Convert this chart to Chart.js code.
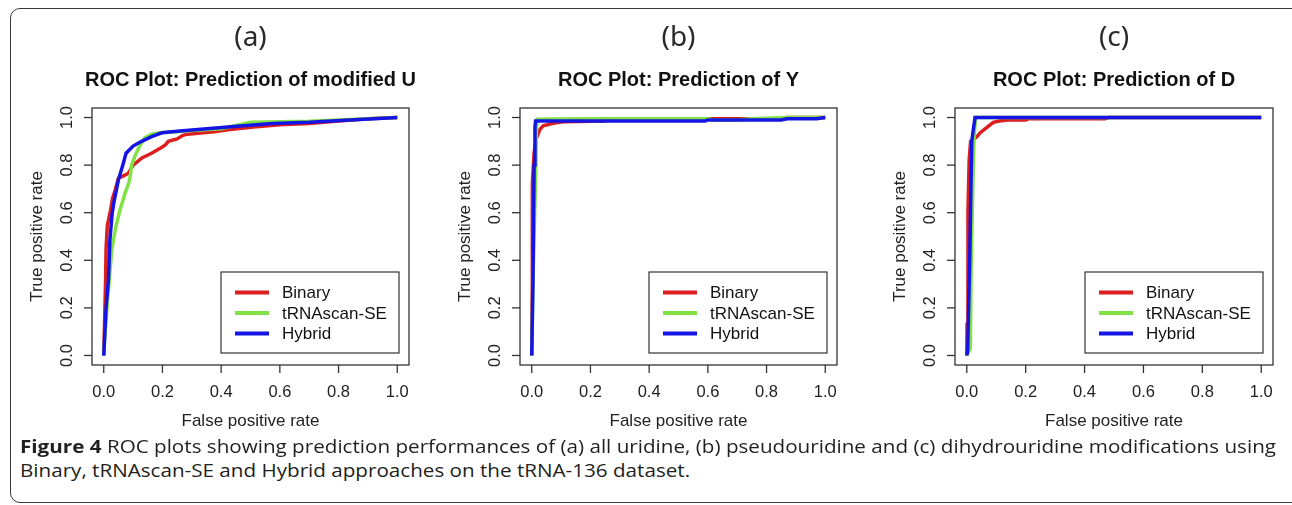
<!DOCTYPE html>
<html>
<head>
<meta charset="utf-8">
<script src="https://cdn.jsdelivr.net/npm/chart.js@4.4.1/dist/chart.umd.min.js"></script>
<style>
  body { margin: 0; background: #fff; }
  #page { position: relative; width: 1292px; height: 505px; overflow: hidden; background: #fff; }
  #frame { position: absolute; left: 10px; top: 8px; width: 1290px; height: 493px; border: 1.5px solid #3a3a3a; border-radius: 10px; }
  canvas { position: absolute; top: 15px; }
  .cap { position: absolute; left: 20px; font-family: "Open Sans", "Noto Sans", sans-serif; font-size: 18px; line-height: 24px; color: #231f20; white-space: nowrap; transform-origin: 0 0; }
  .cap b { font-weight: 700; }
</style>
</head>
<body>
<div id="page">
  <div id="frame"></div>
  <canvas id="rocA" width="410" height="430" style="left:14px"></canvas>
  <canvas id="rocB" width="410" height="430" style="left:440px"></canvas>
  <canvas id="rocC" width="412" height="430" style="left:872px"></canvas>
  <div class="cap" id="cap1" style="top:434px"><b>Figure 4</b> ROC plots showing prediction performances of (a) all uridine, (b) pseudouridine and (c) dihydrouridine modifications using</div>
  <div class="cap" id="cap2" style="top:458px">Binary, tRNAscan-SE and Hybrid approaches on the tRNA-136 dataset.</div>
</div>
<script>
// axis ticks
const tickValues = [0, 0.2, 0.4, 0.6, 0.8, 1.0];
const tickLabels = ["0.0", "0.2", "0.4", "0.6", "0.8", "1.0"];
const seriesNames = ["Binary", "tRNAscan-SE", "Hybrid"];
const seriesColors = ["#dc1e1e", "#80e244", "#1414e4"];
const panelLetters = ["(a)", "(b)", "(c)"];
const panelTitles = ["ROC Plot: Prediction of modified U", "ROC Plot: Prediction of Y", "ROC Plot: Prediction of D"];

// (a) modified U
const binA_fpr = [0, 0.003, 0.006, 0.008, 0.012, 0.018, 0.023, 0.03, 0.04, 0.05, 0.067, 0.084, 0.10, 0.115, 0.13, 0.163, 0.198, 0.21, 0.22, 0.25, 0.27, 0.285, 0.33, 0.376, 0.43, 0.51, 0.6, 0.7, 0.8, 0.9, 1.0];
const binA_tpr = [0, 0.15, 0.3, 0.45, 0.544, 0.58, 0.61, 0.66, 0.70, 0.745, 0.755, 0.766, 0.80, 0.815, 0.83, 0.85, 0.875, 0.885, 0.90, 0.91, 0.925, 0.93, 0.935, 0.94, 0.95, 0.96, 0.97, 0.975, 0.985, 0.995, 1.0];
const trnA_fpr = [0, 0.005, 0.012, 0.019, 0.027, 0.035, 0.042, 0.055, 0.065, 0.072, 0.084, 0.09, 0.095, 0.107, 0.122, 0.14, 0.163, 0.19, 0.25, 0.3, 0.4, 0.5, 0.6, 0.7, 0.8, 0.9, 1.0];
const trnA_tpr = [0, 0.1, 0.22, 0.318, 0.44, 0.5, 0.544, 0.61, 0.65, 0.68, 0.72, 0.75, 0.80, 0.84, 0.88, 0.915, 0.93, 0.936, 0.94, 0.945, 0.953, 0.98, 0.982, 0.984, 0.99, 0.995, 1.0];
const hybA_fpr = [0, 0.004, 0.008, 0.016, 0.021, 0.029, 0.036, 0.05, 0.065, 0.076, 0.10, 0.129, 0.163, 0.198, 0.26, 0.351, 0.464, 0.577, 0.7, 0.84, 1.0];
const hybA_tpr = [0, 0.1, 0.2, 0.318, 0.487, 0.6, 0.653, 0.738, 0.80, 0.85, 0.88, 0.9, 0.92, 0.936, 0.943, 0.953, 0.964, 0.975, 0.98, 0.99, 1.0];

// (b) pseudouridine
const binB_fpr = [0, 0.002, 0.002, 0.008, 0.015, 0.02, 0.028, 0.039, 0.073, 0.107, 0.25, 0.26, 0.6, 0.86, 0.87, 1.0];
const binB_tpr = [0, 0.3, 0.72, 0.85, 0.91, 0.925, 0.95, 0.965, 0.976, 0.982, 0.985, 0.995, 0.995, 0.995, 1.0, 1.0];
const trnB_fpr = [0, 0.006, 0.01, 0.014, 0.016, 0.019, 0.08, 0.25, 0.6, 0.62, 0.7, 0.75, 0.87, 1.0];
const trnB_tpr = [0, 0.4, 0.6, 0.78, 0.95, 0.993, 0.994, 0.995, 0.995, 0.99, 0.99, 0.995, 1.0, 1.0];
const hybB_fpr = [0, 0.004, 0.008, 0.011, 0.013, 0.59, 0.6, 0.85, 0.87, 0.97, 1.0];
const hybB_tpr = [0, 0.3, 0.8, 0.96, 0.985, 0.985, 0.99, 0.99, 0.995, 0.995, 1.0];

// (c) dihydrouridine
const binC_fpr = [0, 0.001, 0.004, 0.008, 0.013, 0.025, 0.035, 0.045, 0.06, 0.075, 0.09, 0.11, 0.14, 0.2, 0.21, 0.47, 0.48, 1.0];
const binC_tpr = [0, 0.13, 0.6, 0.82, 0.9, 0.91, 0.92, 0.935, 0.95, 0.965, 0.98, 0.985, 0.99, 0.99, 0.995, 0.995, 1.0, 1.0];
const trnC_fpr = [0, 0.012, 0.015, 0.022, 0.025, 0.03, 1.0];
const trnC_tpr = [0, 0.03, 0.37, 0.8, 0.92, 1.0, 1.0];
const hybC_fpr = [0, 0.003, 0.01, 0.014, 0.017, 0.02, 0.028, 1.0];
const hybC_tpr = [0, 0.02, 0.4, 0.7, 0.9, 0.93, 1.0, 1.0];

const panels = [
  { id: "rocA", pad: { left: 78, right: 15 }, fpr: [binA_fpr, trnA_fpr, hybA_fpr], tpr: [binA_tpr, trnA_tpr, hybA_tpr] },
  { id: "rocB", pad: { left: 80, right: 13 }, fpr: [binB_fpr, trnB_fpr, hybB_fpr], tpr: [binB_tpr, trnB_tpr, hybB_tpr] },
  { id: "rocC", pad: { left: 83, right: 11 }, fpr: [binC_fpr, trnC_fpr, hybC_fpr], tpr: [binC_tpr, trnC_tpr, hybC_tpr] },
];

const plotFont = '"Liberation Sans", Arial, sans-serif';

// R-like box, axes, titles and legend
const rStyle = {
  id: "rStyle",
  afterDatasetsDraw(chart, args, opts) {
    const ctx = chart.ctx;
    const a = chart.chartArea;
    const x = chart.scales.x, y = chart.scales.y;
    const cx = (a.left + a.right) / 2, cy = (a.top + a.bottom) / 2;
    ctx.save();
    ctx.strokeStyle = "#333";
    ctx.lineWidth = 1.3;
    ctx.strokeRect(a.left, a.top, a.right - a.left, a.bottom - a.top);

    ctx.fillStyle = "#222";
    ctx.font = "16.5px " + plotFont;
    ctx.textAlign = "center";
    ctx.textBaseline = "middle";
    tickValues.forEach((v, i) => {
      const px = x.getPixelForValue(v);
      ctx.beginPath(); ctx.moveTo(px, a.bottom); ctx.lineTo(px, a.bottom + 8); ctx.stroke();
      ctx.fillText(tickLabels[i], px, a.bottom + 27);
      const py = y.getPixelForValue(v);
      ctx.beginPath(); ctx.moveTo(a.left - 8, py); ctx.lineTo(a.left, py); ctx.stroke();
      ctx.save();
      ctx.translate(a.left - 25, py);
      ctx.rotate(-Math.PI / 2);
      ctx.fillText(tickLabels[i], 0, 0);
      ctx.restore();
    });

    // axis titles
    ctx.font = "17px " + plotFont;
    ctx.fillText("False positive rate", cx, a.bottom + 56);
    ctx.save();
    ctx.translate(a.left - 55, cy);
    ctx.rotate(-Math.PI / 2);
    ctx.fillText("True positive rate", 0, 0);
    ctx.restore();

    // main title + panel letter
    ctx.fillStyle = "#111";
    ctx.font = "bold 20px " + plotFont;
    ctx.fillText(opts.title, cx, a.top - 28);
    ctx.fillStyle = "#2a2a2a";
    ctx.font = '28px "Noto Sans", sans-serif';
    ctx.textBaseline = "alphabetic";
    ctx.fillText(opts.letter, cx, a.top - 62);

    // legend, bottom right
    const w = 178, h = 81;
    const L = a.right - 10 - w, T = a.bottom - 12 - h;
    ctx.fillStyle = "#fff";
    ctx.fillRect(L, T, w, h);
    ctx.strokeStyle = "#333";
    ctx.lineWidth = 1.2;
    ctx.strokeRect(L, T, w, h);
    ctx.font = "17px " + plotFont;
    ctx.textAlign = "left";
    ctx.textBaseline = "middle";
    seriesNames.forEach((name, i) => {
      const ry = T + 20.5 + i * 20.5;
      ctx.strokeStyle = seriesColors[i];
      ctx.lineWidth = 4;
      ctx.beginPath(); ctx.moveTo(L + 14, ry); ctx.lineTo(L + 48, ry); ctx.stroke();
      ctx.fillStyle = "#111";
      ctx.fillText(name, L + 61, ry + 1);
    });
    ctx.restore();
  }
};

panels.forEach((p, k) => {
  new Chart(document.getElementById(p.id), {
    type: "scatter",
    data: {
      datasets: seriesNames.map((name, i) => ({
        label: name,
        data: p.fpr[i].map((v, j) => ({ x: v, y: p.tpr[i][j] })),
        showLine: true,
        borderColor: seriesColors[i],
        borderWidth: 3.5,
        pointRadius: 0,
        fill: false,
        tension: 0,
        order: seriesNames.length - i, // Hybrid drawn last, on top
      })),
    },
    options: {
      responsive: false,
      animation: false,
      layout: { padding: { left: p.pad.left, right: p.pad.right, top: 93, bottom: 80 } },
      scales: {
        x: { type: "linear", min: -0.04, max: 1.04, display: false },
        y: { type: "linear", min: -0.04, max: 1.04, display: false },
      },
      plugins: {
        legend: { display: false },
        tooltip: { enabled: false },
        rStyle: { title: panelTitles[k], letter: panelLetters[k] },
      },
    },
    plugins: [rStyle],
  });
});

// stretch caption lines to the width of the printed caption
const cap1 = document.getElementById("cap1");
const cap2 = document.getElementById("cap2");
const sx = 1256 / cap1.getBoundingClientRect().width;
cap1.style.transform = "scaleX(" + sx + ")";
cap2.style.transform = "scaleX(" + sx + ")";
</script>
</body>
</html>
